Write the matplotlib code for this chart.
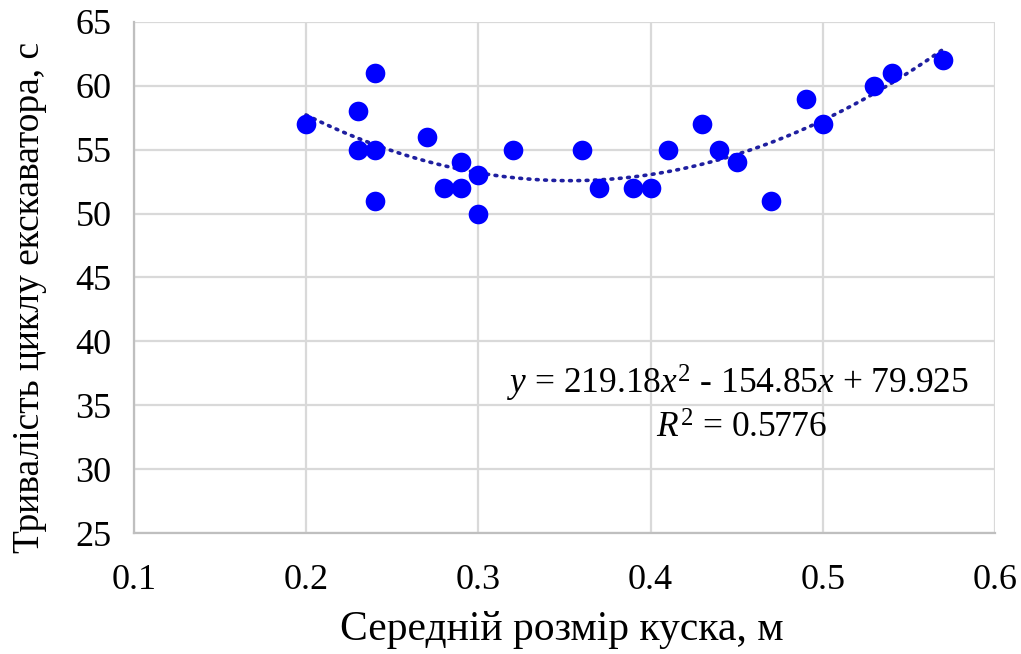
import matplotlib
matplotlib.use('Agg')
import matplotlib.pyplot as plt
import numpy as np

# data
piece_size = [0.20, 0.23, 0.23, 0.24, 0.24, 0.24, 0.27, 0.28, 0.29, 0.29,
              0.30, 0.30, 0.32, 0.36, 0.37, 0.39, 0.40, 0.41, 0.43, 0.44,
              0.45, 0.47, 0.49, 0.50, 0.53, 0.54, 0.57]
cycle_time = [57, 58, 55, 61, 55, 51, 56, 52, 54, 52,
              53, 50, 55, 55, 52, 52, 52, 55, 57, 55,
              54, 51, 59, 57, 60, 61, 62]

# trendline coefficients as shown on the chart
trend_coef = [219.18, -154.85, 79.925]
trend_eq = r'$y$ = 219.18$x^2$ - 154.85$x$ + 79.925'
trend_r2 = r'$R^2$ = 0.5776'

x_ticks = [0.1, 0.2, 0.3, 0.4, 0.5, 0.6]
y_ticks = [25, 30, 35, 40, 45, 50, 55, 60, 65]

plt.rcParams['font.family'] = ['Liberation Serif', 'DejaVu Serif']
plt.rcParams['mathtext.fontset'] = 'custom'
plt.rcParams['mathtext.rm'] = 'Liberation Serif'
plt.rcParams['mathtext.it'] = 'Liberation Serif:italic'

fig = plt.figure(figsize=(10.21, 6.54), dpi=100)
ax = fig.add_axes([0.131, 0.185, 0.8436, 0.7815])

ax.set_xlim(0.1, 0.6)
ax.set_ylim(25, 65)
ax.set_xticks(x_ticks)
ax.set_yticks(y_ticks)
ax.set_xticklabels(['0.1', '0.2', '0.3', '0.4', '0.5', '0.6'])
ax.grid(True, color='#d9d9d9', linewidth=1.6)
ax.set_axisbelow(True)
for side in ['top', 'right']:
    ax.spines[side].set_visible(False)
for side in ['left', 'bottom']:
    ax.spines[side].set_color('#bfbfbf')
    ax.spines[side].set_linewidth(1.6)
ax.tick_params(length=0, labelsize=26)
ax.tick_params(axis='y', pad=16)
ax.tick_params(axis='x', pad=22)

# scatter points
ax.scatter(piece_size, cycle_time, s=200, color='#0000ff', zorder=3,
           linewidths=0)

# polynomial trendline (dotted)
xs = np.linspace(min(piece_size), max(piece_size), 200)
ys = np.polyval(trend_coef, xs)
ax.plot(xs, ys, color='#1f1fa0', linewidth=2.6, linestyle=(0, (0.5, 1.8)),
        dash_capstyle='round', zorder=2)

ax.text(0.451, 36.7, trend_eq, fontsize=25.5, ha='center', va='center')
ax.text(0.453, 33.1, trend_r2, fontsize=25.5, ha='center', va='center')

ax.set_xlabel('Середній розмір куска, м', fontsize=30)
ax.xaxis.set_label_coords(0.497, -0.19)
ax.xaxis.label.set_va('center')
ax.set_ylabel('Тривалість циклу екскаватора, с', fontsize=27)
ax.yaxis.set_label_coords(-0.121, 0.46)
ax.yaxis.label.set_va('center')

plt.savefig('out.png', dpi=100)
